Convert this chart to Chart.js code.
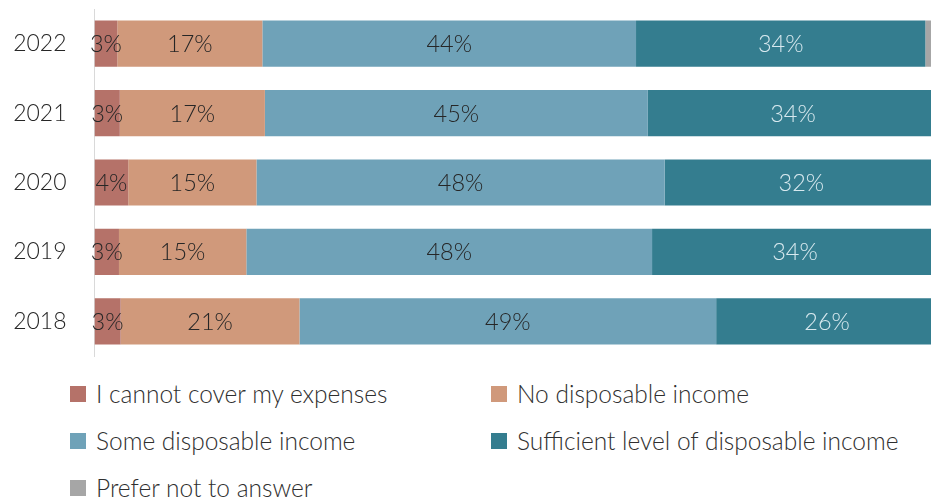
<!DOCTYPE html>
<html>
<head>
<meta charset="utf-8">
<script src="https://cdn.jsdelivr.net/npm/chart.js@4.4.1/dist/chart.umd.min.js"></script>
<style>
  html, body { margin: 0; padding: 0; background: #fff; }
  #wrap { position: relative; width: 931px; height: 497px; overflow: hidden; }
  #chartBox { position: absolute; left: 0; top: 0; width: 938px; height: 360px; }
  #legend {
    position: absolute; left: 70px; top: 370px;
    display: grid; grid-template-columns: 421px 421px; grid-auto-rows: 47px;
    font-family: 'Lato', sans-serif; font-weight: 300; font-size: 24.5px; color: #2f2f2f;
  }
  .item { display: flex; align-items: center; white-space: nowrap; }
  .box { width: 16px; height: 16px; margin-right: 10px; flex: none; }
</style>
</head>
<body>
<div id="wrap">
  <div id="chartBox"><canvas id="incomeChart"></canvas></div>
  <div id="legend"></div>
</div>
<script>
// dados (percentuais por ano)
const years = ['2022', '2021', '2020', '2019', '2018'];
const cannotCover = [2.7, 3.0, 4.0, 2.9, 3.1];
const noIncome = [17.2, 17.2, 15.2, 15.1, 21.2];
const someIncome = [44.3, 45.4, 48.4, 48.1, 49.4];
const sufficientIncome = [34.3, 34.4, 32.4, 33.9, 26.3];
const noAnswer = [1.5, 0, 0, 0, 0];

const seriesNames = ['I cannot cover my expenses', 'No disposable income', 'Some disposable income',
    'Sufficient level of disposable income', 'Prefer not to answer'];
const seriesColors = ['#b57269', '#d0997b', '#6fa2b8', '#347d8f', '#a6a6a6'];
const labelColors = ['#262626', '#262626', '#262626', '#d8e9ef', '#262626'];
const FONT = 'Lato';

// rótulos de valor no centro de cada barra
const barLabels = {
    id: 'barLabels',
    afterDatasetsDraw(chart) {
        const ctx = chart.ctx;
        ctx.save();
        ctx.font = '300 23.5px ' + FONT;
        ctx.textAlign = 'center';
        ctx.textBaseline = 'middle';
        chart.data.datasets.forEach((ds, i) => {
            const meta = chart.getDatasetMeta(i);
            meta.data.forEach((bar, j) => {
                const v = ds.data[j];
                if (v < 2) return;
                const p = bar.getProps(['x', 'y', 'base'], true);
                ctx.fillStyle = labelColors[i];
                ctx.fillText(Math.round(v) + '%', (p.x + p.base) / 2, p.y + 1);
            });
        });
        ctx.restore();
    }
};

const allSeries = [cannotCover, noIncome, someIncome, sufficientIncome, noAnswer];

const chart = new Chart(document.getElementById('incomeChart'), {
    type: 'bar',
    data: {
        labels: years,
        datasets: allSeries.map((d, i) => ({
            label: seriesNames[i],
            data: d,
            backgroundColor: seriesColors[i],
            borderWidth: 0,
            categoryPercentage: 1,
            barPercentage: 0.665
        }))
    },
    options: {
        indexAxis: 'y',
        responsive: true,
        maintainAspectRatio: false,
        animation: false,
        layout: { padding: { top: 9, bottom: 4, left: 0, right: 0 } },
        scales: {
            x: { stacked: true, min: 0, max: 100, display: false },
            y: {
                stacked: true,
                grid: { display: false, drawTicks: false },
                border: { display: true, color: '#d9d9d9', width: 1 },
                ticks: { color: '#262626', padding: 28, font: { family: FONT, size: 23, weight: '300' } },
                afterFit(scale) {
                    // largura fixa e sem o padding extra em cima/embaixo
                    scale.width = 94.5;
                    scale.paddingTop = 0;
                    scale.paddingBottom = 0;
                }
            }
        },
        plugins: {
            legend: { display: false },
            tooltip: { enabled: false }
        }
    },
    plugins: [barLabels]
});

// legenda em HTML, duas colunas
const legendEl = document.getElementById('legend');
chart.data.datasets.forEach(ds => {
    const item = document.createElement('div');
    item.className = 'item';
    const box = document.createElement('span');
    box.className = 'box';
    box.style.background = ds.backgroundColor;
    const txt = document.createElement('span');
    txt.textContent = ds.label;
    item.appendChild(box);
    item.appendChild(txt);
    legendEl.appendChild(item);
});
</script>
</body>
</html>
